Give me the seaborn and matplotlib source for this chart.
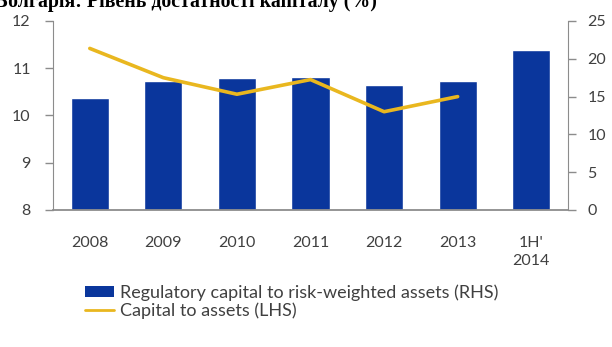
import matplotlib
matplotlib.use("Agg")
import matplotlib.pyplot as plt
import seaborn as sns
import numpy as np
import pandas as pd
from matplotlib.patches import Patch
from matplotlib.lines import Line2D

# Data
periods = ["2008", "2009", "2010", "2011", "2012", "2013", "1H'\n2014"]
reg_capital_rwa = [14.8, 17.0, 17.4, 17.6, 16.6, 17.0, 21.2]   # right axis, %
capital_to_assets = [11.42, 10.8, 10.45, 10.76, 10.08, 10.4, np.nan]  # left axis, %
title_text = "Болгарія: Рівень достатності капіталу (%)"
bar_label = "Regulatory capital to risk-weighted assets (RHS)"
line_label = "Capital to assets (LHS)"

df = pd.DataFrame({"period": periods, "rwa": reg_capital_rwa, "cta": capital_to_assets})
df["pos"] = np.arange(len(df))

sns.set_style("white")
plt.rcParams["font.family"] = ["Lato", "DejaVu Sans"]

BLUE = "#0A369C"
YELLOW = "#E9B71F"
AXIS = "#8C8C8C"
TXT = "#404040"

fig = plt.figure(figsize=(6.12, 3.47), dpi=100)
ax = fig.add_axes([53 / 612, 1 - 210 / 347, (568 - 53) / 612, (210 - 21) / 347])

# Bars on the right-hand scale
sns.barplot(data=df, x="pos", y="rwa", color=BLUE, saturation=1, width=0.52, ax=ax)
ax.set_xlim(-0.5, 6.5)
ax.set_ylim(0, 25)
ax.set_yticks([0, 5, 10, 15, 20, 25])
ax.set_xlabel("")
ax.set_ylabel("")
ax.set_xticks(range(len(periods)))
ax.set_xticklabels(periods, fontsize=11.5, color=TXT, linespacing=1.3)
ax.tick_params(axis="x", length=0, pad=19)

# Line on the left-hand scale, drawn above the bars
axl = ax.twinx()
sns.lineplot(data=df, x="pos", y="cta", color=YELLOW, linewidth=2.6, ax=axl)
axl.set_ylim(8, 12)
axl.set_yticks([8, 9, 10, 11, 12])
axl.set_xlim(-0.5, 6.5)
axl.set_xlabel("")
axl.set_ylabel("")

ax.yaxis.tick_right()
axl.yaxis.tick_left()
ax.tick_params(axis="y", right=True, left=False, labelright=True, labelleft=False,
               length=6, width=1, color=AXIS, labelsize=11.5, labelcolor=TXT,
               pad=8, direction="out")
axl.tick_params(axis="y", left=True, right=False, labelleft=True, labelright=False,
                length=6, width=1, color=AXIS, labelsize=11.5, labelcolor=TXT,
                pad=10, direction="out")

for a in (ax, axl):
    for s in a.spines.values():
        s.set_visible(False)
for side in ("left", "right", "bottom"):
    axl.spines[side].set_visible(True)
    axl.spines[side].set_color(AXIS)
axl.spines["bottom"].set_linewidth(1.3)

# Legend below the plot
handles = [Patch(facecolor=BLUE, edgecolor="none", label=bar_label),
           Line2D([0], [0], color=YELLOW, linewidth=2, label=line_label)]
fig.legend(handles=handles, loc="upper left", bbox_to_anchor=(78 / 612, 1 - 277 / 347),
           frameon=False, fontsize=13, labelcolor=TXT, handlelength=1.6,
           handleheight=0.6, handletextpad=0.3, labelspacing=0.1, borderaxespad=0)

# Title, partly cropped at the top edge
fig.text(-5 / 612, 1 - 2 / 347, title_text, fontsize=14.3, fontweight="bold",
         family=["Liberation Serif", "DejaVu Serif"], color="black", va="center", ha="left")

fig.savefig("out.png", dpi=100, facecolor="white")
